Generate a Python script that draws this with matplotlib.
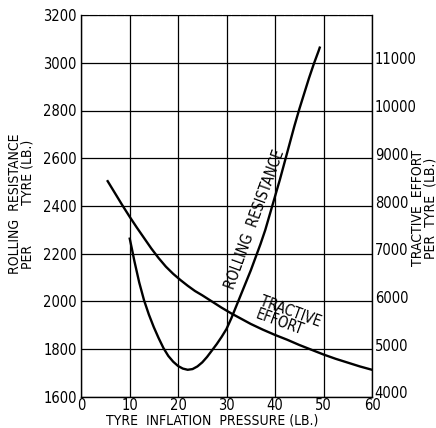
import matplotlib
matplotlib.use("Agg")
import matplotlib.pyplot as plt
from matplotlib import font_manager as fm
from matplotlib.transforms import ScaledTranslation

cond = [f for f in fm.fontManager.ttflist
        if f.name == 'DejaVu Sans' and f.stretch == 'condensed' and f.weight in (400, 'normal') and f.style == 'normal']
if cond:
    FP = fm.FontProperties(fname=cond[0].fname)
else:
    FP = fm.FontProperties(family='DejaVu Sans')

# Rolling resistance (left axis, lb) vs tyre inflation pressure (lb)
rr_pressure = [10, 10.5, 11, 12, 13, 14, 15, 16, 17, 18, 19, 20, 21, 22, 23, 24, 25, 26, 27, 28,
               29, 30, 31, 32, 33, 34, 35, 36, 37, 38, 39, 40, 41, 42, 43, 44, 45, 46, 47, 48, 49, 49.3]
rr_value = [2268, 2220, 2170, 2080, 2005, 1945, 1893, 1847, 1805, 1772, 1748, 1730, 1719, 1714, 1717,
            1728, 1745, 1768, 1795, 1822, 1852, 1885, 1930, 1980, 2030, 2080, 2130, 2185, 2240, 2300,
            2370, 2440, 2510, 2585, 2660, 2735, 2805, 2870, 2935, 2995, 3050, 3068]

# Tractive effort (right axis, lb)
te_pressure = [5.5, 7, 8.5, 10, 11.5, 13, 14.5, 16, 17.5, 19, 20.5, 22, 23.5, 25, 27, 29, 31, 33, 35,
               37.5, 40, 42.5, 45, 47.5, 50, 52.5, 55, 57.5, 60]
te_value = [8520, 8270, 8020, 7780, 7550, 7330, 7110, 6910, 6730, 6580, 6450, 6330, 6220, 6130, 6000,
            5870, 5750, 5640, 5530, 5410, 5300, 5200, 5090, 4990, 4890, 4800, 4720, 4640, 4570]

x_ticks = [0, 10, 20, 30, 40, 50, 60]
left_ticks = [1600, 1800, 2000, 2200, 2400, 2600, 2800, 3000, 3200]
right_ticks = [4000, 5000, 6000, 7000, 8000, 9000, 10000, 11000]


def fp(size):
    p = FP.copy()
    p.set_size(size)
    return p


fig = plt.figure(figsize=(4.36, 4.28), dpi=100)
ax = fig.add_axes([81/436, 1-397/428, (372-81)/436, (397-15)/428])
ax.set_xlim(0, 60)
ax.set_ylim(1600, 3200)
ax.set_xticks(x_ticks)
ax.set_yticks(left_ticks)
ax.grid(True, color='black', lw=0.9)
ax.tick_params(axis='y', length=0, pad=3)
ax.tick_params(axis='x', length=0, pad=1)
for lab in ax.get_xticklabels() + ax.get_yticklabels():
    lab.set_fontproperties(fp(10.5))
for s in ax.spines.values():
    s.set_linewidth(1.0)
ax.spines['top'].set_linestyle((0, (6, 2)))
ax.spines['top'].set_linewidth(0.8)

ax.plot(rr_pressure, rr_value, color='black', lw=1.7, solid_capstyle='butt', solid_joinstyle='round')

ax2 = ax.twinx()
ax2.set_ylim(4000, 12000)
ax2.set_yticks(right_ticks)
ax2.tick_params(length=0, pad=2)
shift = ScaledTranslation(0, 0.045, fig.dpi_scale_trans)
for lab in ax2.get_yticklabels():
    lab.set_fontproperties(fp(10.5))
    lab.set_transform(lab.get_transform() + shift)
ax2.plot(te_pressure, te_value, color='black', lw=1.7, solid_joinstyle='round')
for s in ax2.spines.values():
    s.set_visible(False)

ax.set_xlabel('TYRE  INFLATION  PRESSURE (LB.)', fontproperties=fp(10), labelpad=0)
ax.xaxis.set_label_coords((212-81)/(372-81), -(413-397)/382)
fig.text(21/436, 1-204/428, 'ROLLING  RESISTANCE\nPER          TYRE (LB.)', rotation=90,
         ha='center', va='center', fontproperties=fp(10), linespacing=0.9, multialignment='center')
fig.text(424/436, 1-208/428, 'TRACTIVE  EFFORT\nPER  TYRE  (LB.)', rotation=90,
         ha='center', va='center', fontproperties=fp(10), linespacing=0.9, multialignment='center')

ax.text(35.9, 2345, 'ROLLING  RESISTANCE', rotation=70, ha='center', va='center', fontproperties=fp(10.5))
ax.text(42.8, 1930, 'TRACTIVE\nEFFORT', rotation=-20, ha='center', va='center', fontproperties=fp(10.5),
        linespacing=0.85, multialignment='left')

fig.savefig('out.png', dpi=100)
